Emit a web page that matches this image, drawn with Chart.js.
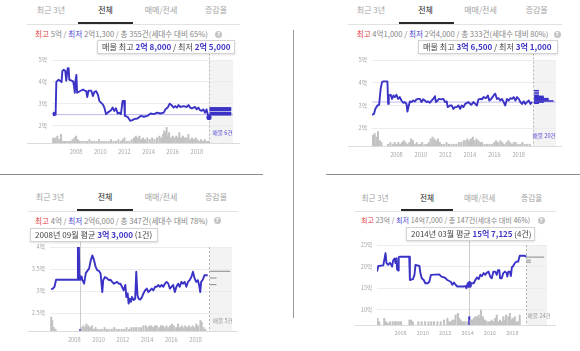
<!DOCTYPE html>
<html><head><meta charset="utf-8">
<script src="https://cdn.jsdelivr.net/npm/chart.js@4.4.1/dist/chart.umd.min.js"></script>
<style>
html,body{margin:0;padding:0;background:#fff;}
body{width:580px;height:351px;position:relative;overflow:hidden;font-family:"Noto Sans CJK KR","Noto Sans",sans-serif;}
div{position:absolute;white-space:nowrap;}
canvas{position:absolute;}
</style></head><body>
<script>
// ---------------- DATA ----------------
const tabNames = ['최근 3년', '전체', '매매/전세', '증감율'];
const xTickYears = [2008, 2010, 2012, 2014, 2016, 2018];

const p1YTicks = [2, 3, 4, 5];
const p2YTicks = [2, 3, 4, 5];
const p3YTicks = [2.5, 3, 3.5, 4];
const p4YTicks = [10, 15, 20, 25];

// monthly average price (억) : [year, value]
const p1Series = [[2006.11,2.59],[2006.16,2.47],[2006.30,2.50],[2006.36,4.00],[2006.55,4.10],[2006.79,3.99],[2006.86,4.50],[2006.98,4.55],[2007.10,4.50],[2007.18,4.05],[2007.30,4.62],[2007.38,4.62],[2007.43,4.10],[2007.75,4.02],[2007.83,3.80],[2007.89,3.50],[2007.94,4.02],[2008.02,4.32],[2008.08,3.50],[2008.30,3.57],[2008.57,3.65],[2008.70,3.60],[2008.84,3.57],[2008.92,3.30],[2009.03,3.60],[2009.25,3.60],[2009.39,3.35],[2009.52,3.54],[2009.66,3.57],[2009.80,3.42],[2009.93,3.12],[2010.21,2.97],[2010.34,2.82],[2010.48,2.52],[2010.62,2.59],[2010.89,2.70],[2011.03,2.82],[2011.16,2.67],[2011.30,2.79],[2011.44,2.55],[2011.57,2.59],[2011.71,2.52],[2011.85,3.12],[2011.98,3.12],[2012.04,2.44],[2012.26,2.40],[2012.48,2.22],[2012.67,2.25],[2012.80,2.29],[2013.08,2.32],[2013.35,2.44],[2013.62,2.40],[2013.90,2.44],[2014.17,2.55],[2014.44,2.52],[2014.72,2.59],[2014.99,2.55],[2015.26,2.59],[2015.40,2.74],[2015.59,2.82],[2015.75,3.00],[2015.89,2.94],[2016.08,2.82],[2016.22,2.89],[2016.36,2.82],[2016.49,2.94],[2016.63,2.85],[2016.90,2.89],[2017.17,2.85],[2017.31,2.94],[2017.45,2.82],[2017.58,2.79],[2017.86,2.85],[2017.99,2.74],[2018.13,2.82],[2018.27,2.70],[2018.40,2.67],[2018.54,2.74],[2018.68,2.59],[2018.81,2.74],[2018.90,2.52],[2019.01,2.37]];

const p2Series = [[2006.00,2.59],[2006.16,2.63],[2006.27,2.85],[2006.44,3.00],[2006.58,3.03],[2006.71,3.74],[2006.82,4.03],[2006.93,4.06],[2007.10,4.06],[2007.26,4.06],[2007.32,3.07],[2007.37,3.44],[2007.53,3.47],[2007.64,3.29],[2007.75,3.44],[2007.86,3.37],[2008.00,3.47],[2008.14,3.29],[2008.27,3.37],[2008.41,3.22],[2008.55,3.12],[2008.68,3.15],[2008.82,3.07],[2008.90,2.73],[2009.01,3.00],[2009.10,3.18],[2009.23,3.15],[2009.37,3.22],[2009.51,3.18],[2009.64,3.27],[2009.78,3.29],[2009.92,3.29],[2010.05,3.15],[2010.19,3.27],[2010.33,3.22],[2010.47,3.15],[2010.60,3.18],[2010.74,3.12],[2010.88,3.22],[2011.01,3.29],[2011.15,3.41],[2011.23,3.15],[2011.37,3.22],[2011.48,3.29],[2011.64,3.27],[2011.84,3.29],[2011.97,3.15],[2012.11,3.18],[2012.19,2.93],[2012.38,3.00],[2012.52,3.00],[2012.66,2.85],[2012.79,2.93],[2012.93,2.93],[2013.07,3.00],[2013.21,2.85],[2013.34,3.00],[2013.48,2.93],[2013.62,3.07],[2013.89,3.15],[2014.11,3.03],[2014.30,3.15],[2014.44,3.07],[2014.58,3.00],[2014.71,3.27],[2014.85,3.29],[2014.99,3.27],[2015.12,3.37],[2015.32,3.32],[2015.48,3.44],[2015.59,3.22],[2015.75,3.29],[2015.95,3.44],[2016.08,3.52],[2016.22,3.29],[2016.36,3.32],[2016.49,3.22],[2016.63,3.29],[2016.77,3.15],[2016.90,3.00],[2017.04,3.29],[2017.18,3.22],[2017.32,3.32],[2017.45,3.29],[2017.59,3.37],[2017.73,3.22],[2017.86,3.37],[2018.00,3.29],[2018.14,3.15],[2018.27,3.07],[2018.41,3.18],[2018.55,3.07],[2018.68,3.15],[2018.82,3.22],[2018.96,3.07],[2019.10,3.15]];

const p3Series = [[2006.10,3.04],[2006.23,3.06],[2006.37,3.10],[2006.50,3.26],[2007.18,3.26],[2008.27,3.26],[2008.30,4.00],[2008.38,4.00],[2008.43,3.26],[2008.54,3.31],[2008.68,3.25],[2008.81,3.17],[2008.95,3.41],[2009.08,3.46],[2009.22,3.51],[2009.36,3.70],[2009.49,3.81],[2009.63,3.70],[2009.76,3.55],[2009.90,3.47],[2010.04,3.46],[2010.17,3.40],[2010.31,2.98],[2010.39,3.25],[2010.52,3.32],[2010.71,3.29],[2010.85,3.25],[2010.99,3.26],[2011.12,3.21],[2011.26,3.17],[2011.39,3.19],[2011.53,3.21],[2011.67,3.17],[2011.80,3.17],[2011.94,3.10],[2012.07,3.02],[2012.21,3.14],[2012.29,2.87],[2012.40,2.95],[2012.48,2.72],[2012.56,2.83],[2012.67,2.76],[2012.75,2.87],[2012.89,2.80],[2013.02,2.83],[2013.11,3.44],[2013.21,2.91],[2013.30,2.83],[2013.43,2.81],[2013.57,2.86],[2013.70,2.95],[2013.84,3.02],[2013.98,3.06],[2014.11,2.98],[2014.25,3.02],[2014.39,3.06],[2014.52,3.02],[2014.66,3.10],[2014.79,3.10],[2014.93,3.14],[2015.06,3.10],[2015.20,3.14],[2015.34,3.10],[2015.47,3.17],[2015.61,3.21],[2015.75,3.17],[2015.88,3.06],[2016.01,3.10],[2016.15,3.14],[2016.29,2.98],[2016.42,3.10],[2016.56,3.17],[2016.69,3.10],[2016.83,3.21],[2016.96,3.17],[2017.10,3.21],[2017.24,3.10],[2017.37,3.21],[2017.51,3.25],[2017.65,3.32],[2017.78,3.44],[2017.92,3.29],[2018.05,3.21],[2018.19,3.25],[2018.32,3.10],[2018.38,2.98],[2018.46,3.21],[2018.59,3.26],[2018.73,3.36],[2019.00,3.36]];

const p4Series = [[2005.90,18.85],[2006.02,20.15],[2006.46,20.3],[2006.55,21.5],[2006.66,23.1],[2006.75,20.8],[2006.90,20.4],[2007.05,20.9],[2007.14,20.6],[2007.25,20.0],[2007.34,21.4],[2007.49,21.9],[2007.55,20.8],[2007.64,21.9],[2007.69,19.4],[2007.78,19.1],[2007.84,22.2],[2007.96,22.3],[2008.78,22.3],[2008.84,16.9],[2009.11,17.1],[2009.25,18.1],[2009.34,20.4],[2009.69,20.15],[2009.78,18.5],[2009.90,17.3],[2010.08,16.9],[2010.22,16.15],[2010.43,16.15],[2010.58,16.5],[2010.72,18.1],[2011.46,18.2],[2011.66,17.7],[2011.90,17.5],[2012.05,17.3],[2012.19,16.9],[2012.49,16.5],[2012.64,15.8],[2012.78,16.3],[2012.93,15.8],[2013.08,15.4],[2013.66,15.4],[2013.81,15.5],[2013.90,15.0],[2014.02,16.15],[2014.19,16.5],[2014.31,16.15],[2014.55,16.15],[2014.69,16.9],[2014.84,17.5],[2014.99,17.1],[2015.14,18.1],[2015.28,17.8],[2015.43,18.5],[2015.58,18.1],[2015.72,18.6],[2015.87,18.85],[2016.02,17.7],[2016.16,17.3],[2016.31,18.85],[2016.46,18.85],[2016.61,18.1],[2016.72,19.2],[2016.84,19.2],[2016.90,17.3],[2017.05,17.3],[2017.19,18.5],[2017.34,18.85],[2017.49,18.5],[2017.55,17.7],[2017.64,18.85],[2017.78,18.85],[2017.87,17.8],[2017.96,19.85],[2018.08,20.15],[2018.22,20.8],[2018.37,21.15],[2018.52,21.15],[2018.66,22.5],[2019.11,22.5],[2019.25,22.3]];

// transaction counts : [year, count]
const p1Volume = [[2006.1,3],[2006.2,2],[2006.3,3],[2006.45,4],[2006.6,2],[2006.75,5],[2006.9,1],[2007.05,1],[2007.2,1],[2007.4,1],[2007.55,1],[2007.7,2],[2007.85,3],[2008.0,4],[2008.15,2],[2008.3,1],[2008.5,1],[2008.7,1],[2008.9,1],[2009.1,2],[2009.3,1],[2009.5,1],[2009.7,1],[2009.9,2],[2010.1,1],[2010.3,1],[2010.5,1],[2010.7,1],[2010.9,2],[2011.1,1],[2011.3,1],[2011.5,2],[2011.7,1],[2011.85,2],[2012.0,3],[2012.2,1],[2012.4,1],[2012.6,2],[2012.8,3],[2012.95,4],[2013.1,3],[2013.25,4],[2013.4,2],[2013.55,3],[2013.7,2],[2013.9,3],[2014.1,2],[2014.3,3],[2014.5,2],[2014.7,3],[2014.9,4],[2015.05,3],[2015.2,5],[2015.3,7],[2015.4,6],[2015.5,9],[2015.6,4],[2015.7,6],[2015.85,3],[2016.0,4],[2016.15,3],[2016.3,4],[2016.45,3],[2016.55,6],[2016.7,3],[2016.85,4],[2017.0,3],[2017.15,3],[2017.3,5],[2017.45,2],[2017.6,3],[2017.75,2],[2017.9,3],[2018.05,2],[2018.2,1],[2018.35,2],[2018.5,1],[2018.65,2],[2018.8,1],[2018.95,1]];
const p2Volume = [[2006.08,6],[2006.22,7],[2006.36,5],[2006.49,8],[2006.63,3],[2006.77,2],[2007.3,1],[2007.5,2],[2007.7,1],[2007.85,2],[2008.0,1],[2008.15,2],[2008.3,1],[2008.45,2],[2008.6,3],[2008.75,2],[2008.9,1],[2009.05,2],[2009.2,4],[2009.35,3],[2009.5,1],[2009.65,2],[2009.8,1],[2009.95,1],[2010.1,2],[2010.3,1],[2010.5,1],[2010.65,2],[2010.8,4],[2010.95,5],[2011.1,4],[2011.25,3],[2011.4,4],[2011.55,2],[2011.7,1],[2011.9,1],[2012.1,2],[2012.3,1],[2012.5,1],[2012.7,1],[2012.9,1],[2013.1,2],[2013.3,2],[2013.5,3],[2013.65,3],[2013.8,4],[2013.95,3],[2014.1,4],[2014.25,5],[2014.4,3],[2014.55,4],[2014.7,3],[2014.85,2],[2015.0,2],[2015.2,1],[2015.4,1],[2015.6,1],[2015.8,1],[2016.0,2],[2016.15,3],[2016.3,2],[2016.5,3],[2016.65,2],[2016.8,1],[2017.0,2],[2017.15,3],[2017.3,2],[2017.45,1],[2017.6,2],[2017.75,2],[2017.9,1],[2018.1,1],[2018.3,2],[2018.5,1],[2018.7,1],[2018.9,1]];
const p3Volume = [[2006.10,8],[2006.18,6],[2006.31,2],[2006.45,1],[2008.5,1],[2008.6,2],[2008.75,3],[2008.9,2],[2009.0,4],[2009.15,3],[2009.3,2],[2009.45,3],[2009.6,1],[2009.75,2],[2009.9,1],[2010.1,1],[2010.3,1],[2010.5,2],[2010.7,1],[2010.9,1],[2011.1,1],[2011.3,2],[2011.5,1],[2011.7,1],[2011.9,1],[2012.1,1],[2012.3,2],[2012.5,1],[2012.7,2],[2012.9,2],[2013.1,2],[2013.3,2],[2013.5,2],[2013.7,3],[2013.9,3],[2014.05,2],[2014.2,3],[2014.35,3],[2014.5,2],[2014.65,3],[2014.8,3],[2015.0,2],[2015.15,3],[2015.3,3],[2015.45,2],[2015.6,3],[2015.75,2],[2015.9,3],[2016.05,4],[2016.2,3],[2016.4,2],[2016.55,4],[2016.7,2],[2016.85,3],[2017.0,2],[2017.15,3],[2017.3,2],[2017.45,3],[2017.6,2],[2017.75,3],[2017.9,2],[2018.05,4],[2018.2,3],[2018.4,6],[2018.5,5],[2018.65,2],[2018.8,1]];
const p4Volume = [[2005.95,4],[2006.1,2],[2006.55,4],[2006.7,2],[2006.85,1],[2007.05,2],[2007.3,2],[2007.5,2],[2007.65,2],[2007.85,2],[2008.05,2],[2008.8,3],[2008.95,3],[2009.1,2],[2009.6,2],[2009.9,2],[2010.2,2],[2010.5,2],[2010.75,2],[2011.0,2],[2011.3,2],[2011.6,2],[2011.9,3],[2012.2,4],[2012.35,2],[2012.5,2],[2012.64,3],[2012.78,3],[2012.93,6],[2013.14,7],[2013.25,4],[2013.37,3],[2013.5,2],[2013.66,2],[2013.8,2],[2014.0,2],[2014.15,5],[2014.27,3],[2014.4,3],[2014.55,4],[2014.69,5],[2014.85,5],[2014.99,6],[2015.05,4],[2015.19,9],[2015.28,4],[2015.37,5],[2015.47,3],[2015.58,3],[2015.7,2],[2015.87,2],[2016.0,2],[2016.16,3],[2016.3,2],[2016.46,4],[2016.61,6],[2016.75,2],[2016.9,3],[2017.05,2],[2017.19,5],[2017.3,3],[2017.43,6],[2017.64,5],[2017.78,7],[2017.9,3],[2018.02,4],[2018.1,3],[2018.22,5],[2018.35,2],[2018.5,2],[2018.66,6]];

// current listings : price levels (억) and number of listings at each level
const p1ListPrices = [2.5, 2.54, 2.58, 2.7, 2.75, 2.8];
const p1ListCounts = [1, 1, 1, 1, 1, 1];
const p2ListPrices = [3.65, 3.55, 3.45, 3.4, 3.35, 3.3, 3.25, 3.2, 3.15, 3.1];
const p2ListCounts = [1, 1, 1, 2, 2, 3, 3, 4, 2, 1];
const p3ListPrices = [3.45, 3.3, 3.15];
const p3ListCounts = [3, 1, 1];
const p4ListPrices = [22.2, 21.5, 21.0];
const p4ListCounts = [16, 4, 4];

// header / tooltip texts
const p1Info = ['5억', '2억1,300', '355건(세대수 대비 65%)'];
const p2Info = ['4억1,000', '2억4,000', '333건(세대수 대비 80%)'];
const p3Info = ['4억', '2억6,000', '347건(세대수 대비 78%)'];
const p4Info = ['23억', '14억7,000', '147건(세대수 대비 46%)'];
const p1Tip = '매물 최고 <b>2억 8,000</b> / 최저 <b>2억 5,000</b>';
const p2Tip = '매물 최고 <b>3억 6,500</b> / 최저 <b>3억 1,000</b>';
const p3Tip = '2008년 09월 평균 <b>3억 3,000</b> (1건)';
const p4Tip = '2014년 03월 평균 <b>15억 7,125</b> (4건)';
const listingLabels = ['매물 6건', '매물 20건', '매물 5건', '매물 24건'];

// ---------------- RENDER ----------------
const FONT = '"Noto Sans CJK KR","Noto Sans",sans-serif';
const BLUE = '#3b32c6';
Chart.defaults.font.family = FONT;

function el(style, html) {
  const d = document.createElement('div');
  d.style.cssText = style;
  if (html != null) d.innerHTML = html;
  document.body.appendChild(d);
  return d;
}

const panels = [
  { tabY: 10, tabX: [51, 105.5, 161, 216], tabSize: 8, under: [78, 133, 22], divider: [27, 240, 24],
    infoX: 35, infoY: 34.3, infoSize: 7.6, info: p1Info, q: [218.5, 34],
    tip: [97, 40, 138, 13.5, 102, 8.1], tipHtml: p1Tip,
    L: 52, R: 235, T: 60, B: 143, xMin: 2006, xMax: 2021, yMin: 1.2, yMax: 5, yTicks: p1YTicks,
    series: p1Series, volume: p1Volume, listPrices: p1ListPrices, listCounts: p1ListCounts,
    listColor: BLUE, listWidth: 2, dash: 2019.0, dashTop: 53.5, refLine: 2.5, dot: [2019.01, 2.37],
    hoverX: null, hoverTop: null, label: listingLabels[0], labelPos: [212.5, 133.3], labelColor: '#5a50d4', tickSize: 5.7 },
  { tabY: 10, tabX: [371, 425.5, 480.5, 536.7], tabSize: 8, under: [399, 454, 22], divider: [348, 562, 24],
    infoX: 356.7, infoY: 34, infoSize: 7.6, info: p2Info, q: [557, 34],
    tip: [418, 40, 140, 13.5, 423, 8.1], tipHtml: p2Tip,
    L: 372, R: 556, T: 60, B: 146, xMin: 2006, xMax: 2021.05, yMin: 1.22, yMax: 5, yTicks: p2YTicks,
    series: p2Series, volume: p2Volume, listPrices: p2ListPrices, listCounts: p2ListCounts,
    listColor: BLUE, listWidth: 1.6, dash: 2019.2, dashTop: 53.5, refLine: 3.15, dot: null,
    hoverX: null, hoverTop: null, label: listingLabels[1], labelPos: [532.5, 136], labelColor: '#5a50d4', tickSize: 5.7 },
  { tabY: 197.3, tabX: [50, 105, 161, 216], tabSize: 8, under: [77, 133, 209], divider: [28, 238, 211],
    infoX: 35, infoY: 221, infoSize: 7.6, info: p3Info, q: [217, 220.7],
    tip: [30, 228, 128, 13.5, 35, 8.1], tipHtml: p3Tip,
    L: 50, R: 234, T: 247, B: 331, xMin: 2006, xMax: 2021, yMin: 2.1, yMax: 4, yTicks: p3YTicks,
    series: p3Series, volume: p3Volume, listPrices: p3ListPrices, listCounts: p3ListCounts,
    listColor: '#9a9a9a', listWidth: 1.2, dash: 2019.1, dashTop: 247, refLine: null, dot: [2008.5, 3.3],
    hoverX: 2008.5, hoverTop: 241.5, label: listingLabels[2], labelPos: [212.7, 321.2], labelColor: '#9a9a9a', tickSize: 5.7 },
  { tabY: 198.3, tabX: [375, 427, 479.7, 531.7], tabSize: 7.7, under: [401, 453, 209], divider: [355, 556, 211],
    infoX: 361, infoY: 220.7, infoSize: 7.1, info: p4Info, q: [541, 220],
    tip: [406, 227, 129, 13.5, 411, 8.0], tipHtml: p4Tip,
    L: 377, R: 549, T: 245, B: 325, xMin: 2005.9, xMax: 2021.1, yMin: 6.5, yMax: 25, yTicks: p4YTicks,
    series: p4Series, volume: p4Volume, listPrices: p4ListPrices, listCounts: p4ListCounts,
    listColor: '#9a9a9a', listWidth: 1.2, dash: 2019.2, dashTop: 245, refLine: null, dot: [2014.15, 15.7],
    hoverX: 2014.15, hoverTop: 240.5, label: listingLabels[3], labelPos: [527.5, 316], labelColor: '#9a9a9a', tickSize: 5.5 }
];

// page separators
el('left:0;top:173.5px;width:263px;height:1px;background:#8c8c8c;');
el('left:326px;top:173.5px;width:254px;height:1px;background:#8c8c8c;');
el('left:292.5px;top:30px;width:1.5px;height:288px;background:#9a9a9a;');

panels.forEach((P, idx) => {
  // tabs
  tabNames.forEach((t, i) => {
    el(`left:${P.tabX[i]}px;top:${P.tabY}px;transform:translate(-50%,-50%);font-size:${P.tabSize}px;line-height:1;color:${i === 1 ? '#222' : '#a3a3a3'};`, t);
  });
  el(`left:${P.divider[0]}px;top:${P.divider[2]}px;width:${P.divider[1] - P.divider[0]}px;height:1px;background:#e2e2e2;`);
  el(`left:${P.under[0]}px;top:${P.under[2]}px;width:${P.under[1] - P.under[0]}px;height:2px;background:#2a2a2a;`);
  // info line
  el(`left:${P.infoX}px;top:${P.infoY}px;transform:translateY(-50%);font-size:${P.infoSize}px;line-height:1;color:#858585;`,
    `<span style="color:#e4464b">최고</span> ${P.info[0]} / <span style="color:#4a45d4">최저</span> ${P.info[1]} / 총 ${P.info[2]}`);
  el(`left:${P.q[0] - 3.5}px;top:${P.q[1] - 3.5}px;width:7px;height:7px;border-radius:50%;background:#c4c4c4;color:#fff;font-size:5.5px;line-height:7px;text-align:center;font-weight:bold;font-family:'DejaVu Sans',sans-serif;`, '?');
  // baseline
  el(`left:${P.divider[0]}px;top:${P.B}px;width:${P.divider[1] - P.divider[0]}px;height:1px;background:#dcdcdc;`);

  // canvas
  const padL = 32, padT = 10, padR = 2, padB = 16;
  const cv = document.createElement('canvas');
  const w = P.R - P.L + padL + padR, h = P.B - P.T + padT + padB;
  cv.width = w; cv.height = h;
  cv.style.cssText = `left:${P.L - padL}px;top:${P.T - padT}px;width:${w}px;height:${h}px;`;
  document.body.appendChild(cv);

  const datasets = [];
  datasets.push({ type: 'line', data: P.series.map(([x, y]) => ({ x, y })), borderColor: BLUE, borderWidth: 1.9,
    pointRadius: 0, tension: 0, order: 1, yAxisID: 'y', borderJoinStyle: 'round' });
  const maxC = Math.max(...P.listCounts);
  const lStart = P.dash + 0.06, lEnd = 2020.85;
  P.listPrices.forEach((p, i) => {
    datasets.push({ type: 'line', data: [{ x: lStart, y: p }, { x: lStart + (lEnd - lStart) * P.listCounts[i] / maxC, y: p }],
      borderColor: P.listColor, borderWidth: P.listWidth, pointRadius: 0, order: 2, yAxisID: 'y', borderCapStyle: 'butt' });
  });
  if (P.refLine != null) {
    datasets.push({ type: 'line', data: [{ x: P.xMin, y: P.refLine }, { x: P.xMax, y: P.refLine }],
      borderColor: 'rgba(110,100,220,0.45)', borderWidth: 1, pointRadius: 0, order: 3, yAxisID: 'y' });
  }
  datasets.push({ type: 'bar', data: P.volume.map(([x, y]) => ({ x, y })), yAxisID: 'yv', order: 4,
    backgroundColor: c => (P.hoverX != null && c.raw && Math.abs(c.raw.x - P.hoverX) < 0.001) ? BLUE : '#c2c2c2',
    barThickness: 1.4, grouped: false });
  if (P.dot) {
    datasets.push({ type: 'scatter', data: [{ x: P.dot[0], y: P.dot[1] }], pointRadius: 2.6, pointBackgroundColor: BLUE,
      pointBorderWidth: 0, order: 0, yAxisID: 'y' });
  }

  const deco = {
    id: 'deco' + idx,
    beforeDraw(chart) {
      const { ctx, chartArea: a, scales: { x } } = chart;
      const dx = x.getPixelForValue(P.dash);
      ctx.save();
      ctx.fillStyle = '#f3f3f3';
      ctx.fillRect(dx, a.top, a.right - dx, a.bottom - a.top);
      ctx.restore();
    },
    beforeDatasetsDraw(chart) {
      const { ctx, chartArea: a, scales: { x } } = chart;
      const off = P.T - padT;
      const dx = Math.round(x.getPixelForValue(P.dash)) + 0.5;
      ctx.save();
      ctx.strokeStyle = '#b5b5b5'; ctx.lineWidth = 1; ctx.setLineDash([2, 2]);
      ctx.beginPath(); ctx.moveTo(dx, P.dashTop - off); ctx.lineTo(dx, a.bottom); ctx.stroke();
      if (P.hoverX != null) {
        const hx = Math.round(x.getPixelForValue(P.hoverX)) + 0.5;
        ctx.setLineDash([]); ctx.strokeStyle = '#cccccc';
        ctx.beginPath(); ctx.moveTo(hx, P.hoverTop - off); ctx.lineTo(hx, a.bottom); ctx.stroke();
      }
      ctx.restore();
    }
  };

  new Chart(cv, {
    type: 'line',
    data: { datasets },
    options: {
      responsive: false, animation: false, devicePixelRatio: 1, events: [],
      layout: { padding: { top: padT, left: 0, right: padR, bottom: 0 } },
      plugins: { legend: { display: false }, tooltip: { enabled: false } },
      scales: {
        x: { type: 'linear', min: P.xMin, max: P.xMax, offset: false,
          afterBuildTicks: s => { s.ticks = xTickYears.map(v => ({ value: v })); },
          afterFit: s => { s.height = padB; },
          grid: { display: false, drawTicks: false, offset: false }, border: { display: false },
          ticks: { padding: 5, color: '#a8a8a8', autoSkip: false, maxRotation: 0,
            font: { size: P.tickSize, family: FONT }, callback: v => String(v) } },
        y: { type: 'linear', position: 'left', min: P.yMin, max: P.yMax,
          afterBuildTicks: s => { s.ticks = P.yTicks.map(v => ({ value: v })); },
          afterFit: s => { s.width = padL; },
          grid: { color: '#ececec', drawTicks: false }, border: { display: false },
          ticks: { padding: 5, color: '#a8a8a8', font: { size: P.tickSize, family: FONT }, callback: v => v + '억' } },
        yv: { type: 'linear', display: false, min: 0, max: 48 }
      }
    },
    plugins: [deco]
  });

  // listing count label
  el(`left:${P.labelPos[0]}px;top:${P.labelPos[1]}px;transform:translateY(-50%);font-size:5.7px;line-height:1;color:${P.labelColor};z-index:3;`, P.label);
  // tooltip box
  const tp = P.tip;
  el(`left:${tp[0]}px;top:${tp[1]}px;width:${tp[2]}px;height:${tp[3]}px;box-sizing:border-box;border:1px solid #d3d3d3;background:#fff;box-shadow:0 1px 2px rgba(0,0,0,0.12);font-size:${tp[5]}px;line-height:${tp[3] - 2}px;color:#444;padding-left:${tp[4] - tp[0] - 1}px;z-index:4;`,
    P.tipHtml.replace(/<b>/g, '<b style="color:#3f36c8;font-weight:bold">'));
});
</script>
</body></html>
